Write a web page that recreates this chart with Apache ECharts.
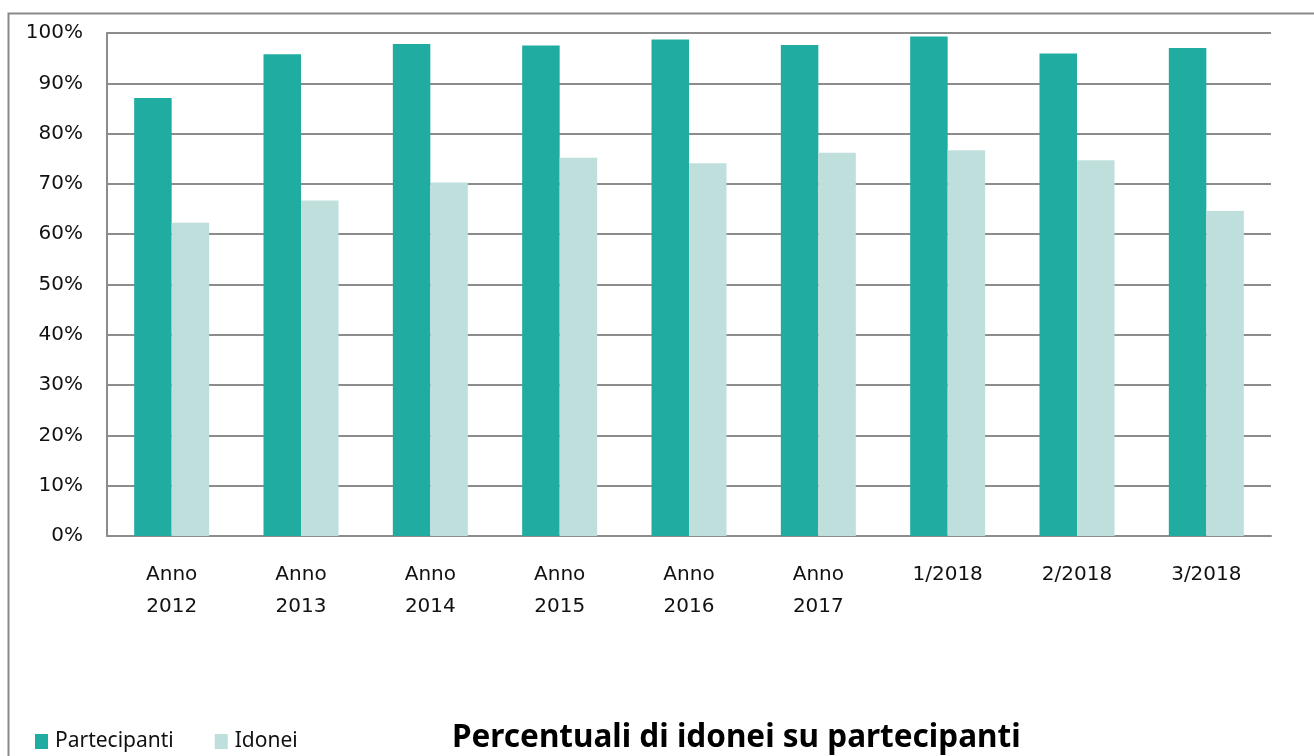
<!DOCTYPE html>
<html>
<head>
<meta charset="utf-8">
<script src="https://cdn.jsdelivr.net/npm/echarts@6/dist/echarts.min.js"></script>
<style>
html,body{margin:0;padding:0;background:#fff;}
#chart{width:1314px;height:756px;}
</style>
</head>
<body>
<div id="chart"></div>
<script>
const categories = ['Anno\n2012','Anno\n2013','Anno\n2014','Anno\n2015','Anno\n2016','Anno\n2017','1/2018','2/2018','3/2018'];
const partecipanti = [87.1, 95.8, 97.8, 97.5, 98.7, 97.6, 99.3, 95.9, 97.0];
const idonei = [62.3, 66.7, 70.3, 75.2, 74.1, 76.2, 76.7, 74.7, 64.6];
const seriesNames = ['Partecipanti', 'Idonei'];
const titleText = 'Percentuali di idonei su partecipanti';

const chart = echarts.init(document.getElementById('chart'), null, {renderer:'canvas'});
chart.setOption({
  animation: false,
  backgroundColor: '#fff',
  graphic: [{
    type: 'rect', left: 6, top: 11, silent: true,
    shape: {width: 1400, height: 900},
    style: {fill: 'none', stroke: '#8a8a8a', lineWidth: 2}
  }],
  title: {
    text: titleText,
    left: 447, top: 717,
    textStyle: {fontFamily: 'Noto Sans', fontWeight: 'bold', fontSize: 31.5, color: '#000'}
  },
  legend: {
    left: 30, top: 726,
    itemWidth: 13, itemHeight: 15, itemGap: 41,
    icon: 'rect',
    textStyle: {fontFamily: 'Noto Sans', fontSize: 21, color: '#111', padding: [0,0,0,2]},
    data: seriesNames
  },
  grid: {left: 107, right: 43, top: 33, bottom: 220, containLabel: false},
  xAxis: {
    type: 'category',
    data: categories,
    axisLine: {show: true, lineStyle: {color: '#8c8c8c', width: 2}},
    axisTick: {show: false},
    axisLabel: {
      margin: 23, lineHeight: 32,
      fontFamily: 'DejaVu Sans', fontSize: 20, color: '#111', interval: 0
    }
  },
  yAxis: {
    type: 'value', min: 0, max: 100, interval: 10,
    axisLine: {show: true, lineStyle: {color: '#8c8c8c', width: 2}},
    axisTick: {show: false},
    splitLine: {show: true, lineStyle: {color: '#8c8c8c', width: 2}},
    axisLabel: {
      formatter: '{value}%', margin: 24,
      fontFamily: 'DejaVu Sans', fontSize: 20, color: '#111'
    }
  },
  series: [
    {name: seriesNames[0], type: 'bar', data: partecipanti, barWidth: '29%', barGap: '0%',
     itemStyle: {color: '#20aca1'}},
    {name: seriesNames[1], type: 'bar', data: idonei, barWidth: '29%', barGap: '0%',
     itemStyle: {color: '#bfdfdc'}}
  ]
});
</script>
</body>
</html>
